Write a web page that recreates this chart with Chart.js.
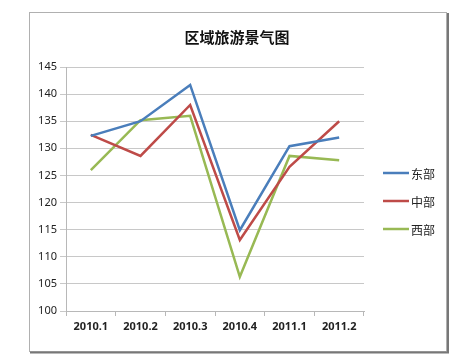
<!DOCTYPE html>
<html><head><meta charset="utf-8">
<script src="https://cdn.jsdelivr.net/npm/chart.js@4/dist/chart.umd.min.js"></script>
<style>html,body{margin:0;padding:0;background:#fff;}canvas{display:block;}</style>
</head><body>
<canvas id="c" width="458" height="362"></canvas>
<script>
const title = '区域旅游景气图';
const categories = ['2010.1','2010.2','2010.3','2010.4','2011.1','2011.2'];
const seriesNames = ['东部','中部','西部'];
const east = [132.3, 135.0, 141.7, 114.9, 130.4, 132.0];
const central = [132.5, 128.6, 138.0, 113.1, 126.6, 135.0];
const west = [126.0, 135.2, 136.0, 106.3, 128.6, 127.8];
const colors = ['#4a7ebb', '#be4b48', '#98b954'];

const frame = {
  id: 'frame',
  beforeDraw(chart) {
    const ctx = chart.ctx;
    ctx.save();
    ctx.fillStyle = '#fff';
    ctx.fillRect(0, 0, chart.width, chart.height);
    ctx.strokeStyle = '#b0b0b0';
    ctx.lineWidth = 1;
    ctx.strokeRect(29.5, 12.5, 417, 339);
    ctx.strokeStyle = '#777';
    ctx.lineWidth = 2;
    ctx.beginPath();
    ctx.moveTo(30, 352.5); ctx.lineTo(448, 352.5); ctx.lineTo(448, 13);
    ctx.stroke();
    ctx.restore();
  },
  afterDraw(chart) {
    const ctx = chart.ctx;
    ctx.save();
    ctx.fillStyle = '#111';
    ctx.font = 'bold 15px "Noto Sans CJK SC"';
    ctx.textAlign = 'center';
    ctx.textBaseline = 'middle';
    ctx.fillText(title, 237, 37);
    const ys = [173, 201, 229];
    ctx.font = '12px "Noto Sans CJK SC"';
    ctx.textAlign = 'left';
    seriesNames.forEach((n, i) => {
      ctx.strokeStyle = colors[i];
      ctx.lineWidth = 2.5;
      ctx.beginPath();
      ctx.moveTo(383, ys[i]); ctx.lineTo(409, ys[i]);
      ctx.stroke();
      ctx.fillStyle = '#222';
      ctx.fillText(n, 411, ys[i] + 1);
    });
    ctx.restore();
  }
};

new Chart(document.getElementById('c'), {
  type: 'line',
  data: {
    labels: categories,
    datasets: [east, central, west].map((d, i) => ({
      label: seriesNames[i],
      data: d,
      borderColor: colors[i],
      backgroundColor: colors[i],
      borderWidth: 2.5,
      pointRadius: 0,
      tension: 0,
      fill: false
    }))
  },
  options: {
    responsive: false,
    animation: false,
    layout: { padding: { left: 29, right: 94, top: 67, bottom: 10 } },
    plugins: { legend: { display: false }, title: { display: false }, tooltip: { enabled: false } },
    scales: {
      x: {
        offset: true,
        afterFit(s) { s.height = 41; },
        grid: { offset: true, drawOnChartArea: false, drawTicks: true, tickLength: 5, color: '#b8b8b8' },
        border: { color: '#b8b8b8' },
        ticks: { color: '#222', font: { family: '"Noto Sans"', size: 11, weight: 'bold' }, padding: 4, maxRotation: 0 }
      },
      y: {
        min: 100, max: 145,
        afterFit(s) { s.width = 37; },
        grid: { color: '#c8c8c8', tickLength: 6 },
        border: { color: '#b8b8b8' },
        ticks: { stepSize: 5, color: '#222', font: { family: '"Noto Sans"', size: 11 }, padding: 3 }
      }
    }
  },
  plugins: [frame]
});
</script>
</body></html>
